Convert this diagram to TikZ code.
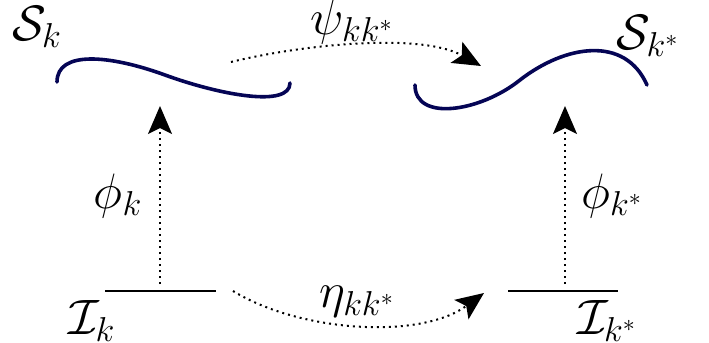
\documentclass[tikz,border=0pt]{standalone}
\usetikzlibrary{arrows.meta}
\definecolor{manifold}{RGB}{5,5,85}
\tikzset{
  surf/.style={draw=manifold, line width=1.8pt, line cap=round},
  flow/.style={dotted, line width=1pt, -{Stealth[length=14pt,width=12pt,inset=3pt]}},
  lbl/.style={font=\fontsize{23}{28}\selectfont, inner sep=0pt},
}
\begin{document}
\begin{tikzpicture}[x=0.5pt,y=-0.5pt]
\useasboundingbox (0,0) rectangle (709,343);
% surfaces
\draw[surf] (57,82) .. controls (57,50) and (110,55) .. (165,75)
  .. controls (220,95) and (290,108) .. (290,83);
\draw[surf] (415,85) .. controls (415,122) and (480,112) .. (520,80)
  .. controls (565,45) and (625,35) .. (647,85);
% index sets
\draw[line width=0.6pt] (105,291) -- (216,291);
\draw[line width=0.6pt] (508,291) -- (618,291);

\coordinate (Ik) at (160,284);
\coordinate (Sk) at (160,106);
\coordinate (Iks) at (565,284);
\coordinate (Sks) at (565,106);
\coordinate (psiA) at (231,62);
\coordinate (psiB) at (481,66);
\coordinate (etaA) at (233,291);
\coordinate (etaB) at (484,293);

\draw[flow] (Ik) -- (Sk);
\draw[flow] (Iks) -- (Sks);
\draw[flow] (psiA) .. controls (300,45) and (420,32) .. (psiB);
\draw[flow] (etaA) .. controls (300,332) and (420,340) .. (etaB);

\node[lbl] (lSk) at (37,27) {$\mathcal{S}_k$};
\node[lbl] (lSks) at (648,36) {$\mathcal{S}_{k^*}$};
\node[lbl] (lIk) at (92,321) {$\mathcal{I}_k$};
\node[lbl] (lIks) at (607,321) {$\mathcal{I}_{k^*}$};
\node[lbl] (lphik) at (118,196) {$\phi_k$};
\node[lbl] (lphiks) at (612,196) {$\phi_{k^*}$};
\node[lbl] (lpsi) at (352,22) {$\psi_{kk^*}$};
\node[lbl] (leta) at (357,302) {$\eta_{kk^*}$};
\end{tikzpicture}
\end{document}
